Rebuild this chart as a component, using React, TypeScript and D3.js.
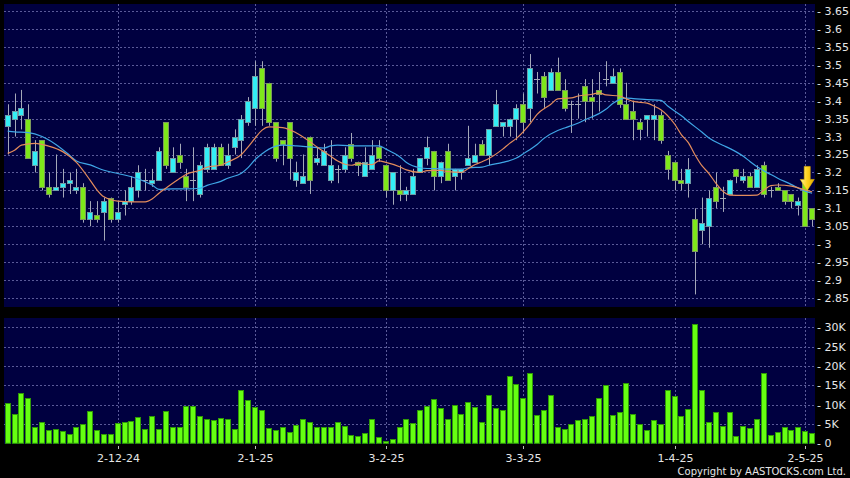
import { useEffect, useRef } from "react";
import * as d3 from "d3";

// daily bars, 8-11-24 .. 6-5-25 (118 sessions)
const OPEN = [
  3.33, 3.35, 3.36, 3.35, 3.22, 3.29, 3.16, 3.15, 3.16, 3.17,
  3.15, 3.16, 3.07, 3.08, 3.09, 3.13, 3.07, 3.112, 3.12, 3.15,
  3.18, 3.17, 3.18, 3.34, 3.20, 3.25, 3.19, 3.18, 3.14, 3.21,
  3.21, 3.27, 3.22, 3.27, 3.29, 3.34, 3.38, 3.49, 3.45, 3.34,
  3.29, 3.34, 3.18, 3.17, 3.30, 3.23, 3.22, 3.18, 3.21, 3.21,
  3.28, 3.23, 3.19, 3.21, 3.27, 3.22, 3.15, 3.15, 3.14, 3.14,
  3.20, 3.24, 3.26, 3.19, 3.26, 3.19, 3.20, 3.22, 3.23, 3.28,
  3.25, 3.33, 3.33, 3.33, 3.35, 3.39, 3.38, 3.46, 3.47, 3.43,
  3.48, 3.43, 3.39, 3.39, 3.44, 3.41, 3.43, 3.46, 3.45, 3.48,
  3.39, 3.37, 3.34, 3.35, 3.35, 3.36, 3.25, 3.23, 3.18, 3.17,
  3.07, 3.04, 3.05, 3.16, 3.13, 3.14, 3.21, 3.18, 3.19, 3.16,
  3.22, 3.15, 3.16, 3.15, 3.14, 3.11, 3.18, 3.10,
];
const HIGH = [
  3.39, 3.42, 3.43, 3.39, 3.29, 3.29, 3.20, 3.25, 3.21, 3.20,
  3.21, 3.17, 3.12, 3.12, 3.13, 3.13, 3.12, 3.15, 3.19, 3.22,
  3.21, 3.21, 3.27, 3.34, 3.27, 3.28, 3.21, 3.27, 3.23, 3.28,
  3.28, 3.28, 3.28, 3.32, 3.36, 3.41, 3.51, 3.51, 3.45, 3.34,
  3.29, 3.34, 3.23, 3.25, 3.30, 3.27, 3.28, 3.29, 3.22, 3.27,
  3.31, 3.23, 3.27, 3.29, 3.29, 3.22, 3.20, 3.22, 3.16, 3.21,
  3.24, 3.30, 3.26, 3.23, 3.28, 3.21, 3.21, 3.33, 3.28, 3.29,
  3.32, 3.43, 3.34, 3.35, 3.39, 3.42, 3.53, 3.48, 3.48, 3.49,
  3.52, 3.46, 3.40, 3.42, 3.46, 3.46, 3.48, 3.51, 3.49, 3.49,
  3.45, 3.40, 3.35, 3.36, 3.39, 3.37, 3.26, 3.23, 3.21, 3.24,
  3.10, 3.13, 3.15, 3.20, 3.16, 3.18, 3.21, 3.21, 3.20, 3.22,
  3.23, 3.16, 3.17, 3.15, 3.14, 3.13, 3.20, 3.10,
];
const LOW = [
  3.25, 3.30, 3.32, 3.24, 3.20, 3.15, 3.13, 3.15, 3.13, 3.14,
  3.14, 3.06, 3.05, 3.06, 3.01, 3.06, 3.06, 3.08, 3.11, 3.13,
  3.15, 3.16, 3.18, 3.21, 3.20, 3.21, 3.12, 3.12, 3.13, 3.20,
  3.21, 3.22, 3.21, 3.25, 3.24, 3.33, 3.33, 3.33, 3.33, 3.23,
  3.22, 3.18, 3.16, 3.17, 3.14, 3.22, 3.22, 3.17, 3.17, 3.20,
  3.23, 3.19, 3.19, 3.21, 3.23, 3.13, 3.11, 3.12, 3.12, 3.14,
  3.20, 3.22, 3.15, 3.17, 3.18, 3.15, 3.18, 3.22, 3.23, 3.25,
  3.22, 3.33, 3.30, 3.30, 3.29, 3.31, 3.34, 3.42, 3.38, 3.43,
  3.43, 3.37, 3.31, 3.35, 3.34, 3.35, 3.37, 3.44, 3.45, 3.38,
  3.35, 3.29, 3.29, 3.30, 3.29, 3.28, 3.18, 3.15, 3.15, 3.13,
  2.86, 3.00, 2.99, 3.10, 3.09, 3.14, 3.17, 3.17, 3.16, 3.16,
  3.13, 3.13, 3.15, 3.11, 3.10, 3.08, 3.05, 3.05,
];
const CLOSE = [
  3.36, 3.37, 3.38, 3.24, 3.26, 3.16, 3.14, 3.16, 3.17, 3.18,
  3.16, 3.07, 3.09, 3.07, 3.12, 3.07, 3.09, 3.12, 3.16, 3.20,
  3.18, 3.18, 3.26, 3.22, 3.24, 3.23, 3.16, 3.18, 3.22, 3.27,
  3.27, 3.22, 3.25, 3.30, 3.35, 3.40, 3.47, 3.38, 3.34, 3.24,
  3.28, 3.24, 3.20, 3.19, 3.18, 3.24, 3.26, 3.22, 3.21, 3.25,
  3.24, 3.22, 3.23, 3.25, 3.24, 3.15, 3.20, 3.14, 3.15, 3.19,
  3.24, 3.27, 3.19, 3.23, 3.18, 3.21, 3.21, 3.24, 3.25, 3.25,
  3.32, 3.39, 3.34, 3.35, 3.38, 3.34, 3.49, 3.46, 3.41, 3.48,
  3.43, 3.38, 3.39, 3.39, 3.40, 3.40, 3.42, 3.46, 3.47, 3.39,
  3.35, 3.35, 3.32, 3.36, 3.36, 3.29, 3.21, 3.18, 3.17, 3.21,
  2.98, 3.06, 3.13, 3.12, 3.13, 3.18, 3.19, 3.19, 3.16, 3.21,
  3.14, 3.15, 3.15, 3.12, 3.12, 3.12, 3.05, 3.07,
];
// volume in thousands of shares
const VOLUME = [
  10.5, 7.5, 12.9, 11.8, 4.2, 5.4, 3.5, 3.6, 3.2, 2.4,
  4.1, 5.0, 8.4, 3.4, 2.4, 2.4, 5.3, 5.6, 5.8, 6.7,
  3.8, 7.0, 3.8, 8.3, 4.2, 4.1, 9.6, 9.6, 7.0, 6.3,
  5.9, 6.5, 6.3, 3.6, 13.9, 11.3, 9.5, 8.6, 4.0, 3.5,
  4.1, 2.9, 4.7, 6.2, 5.5, 4.1, 4.2, 4.1, 5.4, 4.5,
  2.2, 1.9, 2.7, 6.2, 1.6, 0.5, 1.0, 4.3, 6.3, 5.3,
  8.7, 9.7, 11.4, 9.2, 6.3, 9.9, 7.5, 10.7, 9.5, 5.4,
  12.4, 9.2, 8.5, 17.5, 15.4, 11.7, 18.2, 7.3, 8.6, 12.4,
  4.3, 3.8, 4.9, 5.9, 6.3, 7.1, 11.6, 15.0, 7.2, 8.0,
  15.7, 7.5, 5.0, 3.5, 5.9, 5.1, 13.8, 12.3, 7.0, 9.0,
  30.9, 13.8, 5.6, 8.0, 4.5, 8.2, 2.0, 4.4, 4.0, 6.3,
  18.1, 2.2, 2.9, 4.1, 3.5, 4.1, 3.1, 2.6,
];

// moving averages: [bar index, value]
const MA10: [number, number][] = [
  [0, 3.253], [1, 3.262], [2, 3.276], [4, 3.281], [6, 3.273], [8, 3.258], [10, 3.228],
  [12, 3.178], [13, 3.151], [14, 3.132], [16, 3.12], [18, 3.118], [20, 3.118], [21, 3.126],
  [22, 3.142], [23, 3.156], [25, 3.183], [26, 3.195], [28, 3.206], [29, 3.215], [31, 3.22],
  [32, 3.229], [34, 3.25], [35, 3.272], [36, 3.296], [37, 3.318], [38, 3.327], [40, 3.325],
  [42, 3.31], [44, 3.285], [45, 3.271], [47, 3.245], [48, 3.232], [50, 3.22], [51, 3.225],
  [53, 3.222], [54, 3.232], [55, 3.228], [57, 3.216], [58, 3.207], [60, 3.2], [61, 3.205],
  [63, 3.206], [64, 3.202], [66, 3.2], [67, 3.211], [68, 3.222], [69, 3.23], [70, 3.239],
  [72, 3.265], [73, 3.281], [74, 3.295], [76, 3.336], [77, 3.362], [79, 3.39], [80, 3.405],
  [82, 3.408], [83, 3.413], [85, 3.418], [86, 3.422], [87, 3.416], [89, 3.413], [90, 3.405],
  [91, 3.398], [93, 3.393], [94, 3.385], [95, 3.375], [97, 3.335], [98, 3.305], [99, 3.283],
  [100, 3.248], [101, 3.218], [102, 3.197], [103, 3.17], [104, 3.148], [105, 3.137],
  [107, 3.136], [109, 3.137], [110, 3.151], [111, 3.163], [112, 3.165], [114, 3.162],
  [115, 3.157], [116, 3.151], [117, 3.146],
];
const MA20: [number, number][] = [
  [0, 3.315], [1, 3.313], [3, 3.311], [5, 3.3], [7, 3.278], [9, 3.248], [10, 3.232],
  [12, 3.221], [14, 3.206], [16, 3.197], [18, 3.188], [20, 3.174], [21, 3.165], [22, 3.153],
  [24, 3.154], [26, 3.154], [28, 3.156], [29, 3.164], [31, 3.175], [32, 3.184], [34, 3.198],
  [35, 3.214], [36, 3.236], [37, 3.252], [38, 3.265], [40, 3.276], [42, 3.274], [44, 3.271],
  [46, 3.268], [47, 3.274], [48, 3.276], [51, 3.274], [54, 3.274], [55, 3.265], [57, 3.244],
  [58, 3.228], [60, 3.213], [61, 3.211], [63, 3.21], [64, 3.209], [66, 3.209], [67, 3.213],
  [69, 3.215], [70, 3.22], [72, 3.228], [74, 3.24], [75, 3.252], [77, 3.278], [78, 3.295],
  [80, 3.317], [81, 3.324], [83, 3.338], [84, 3.347], [86, 3.364], [87, 3.376], [88, 3.392],
  [90, 3.407], [91, 3.406], [93, 3.403], [95, 3.401], [96, 3.385], [98, 3.358], [99, 3.342],
  [101, 3.312], [102, 3.296], [104, 3.276], [105, 3.267], [107, 3.245], [108, 3.23],
  [109, 3.216], [111, 3.194], [112, 3.184], [114, 3.166], [115, 3.156], [116, 3.148],
  [117, 3.142],
];

const PRICE_TICKS = [3.65, 3.6, 3.55, 3.5, 3.45, 3.4, 3.35, 3.3, 3.25, 3.2, 3.15, 3.1, 3.05, 3, 2.95, 2.9, 2.85];
const VOL_TICKS = [0, 5, 10, 15, 20, 25, 30];
const DATE_TICKS = [16, 36, 55, 75, 97, 116];
const DATE_LABELS = ["2-12-24", "2-1-25", "3-2-25", "3-3-25", "1-4-25", "2-5-25"];
const SIGNAL_BAR = 116;

const W = 850;
const H = 478;
const PLOT_L = 4;
const PLOT_R = 815;
const PRICE_PANEL = { top: 4, bottom: 307 };
const VOL_PANEL = { top: 318, bottom: 444 };

const BG = "#000040";
const GRID = "#5a5a98";
const TXT = "#e6e6e6";
const UP = "#33eef6";
const DOWN = "#7ee81a";
const WICK = "#a4a8b8";
const FONT = "DejaVu Sans, Verdana, sans-serif";

function drawChart(el: SVGSVGElement) {
  const svg = d3.select(el);
  svg.selectAll("*").remove();

  const n = CLOSE.length;
  const x = d3.scaleLinear().domain([0, n - 1]).range([7.7, 812.1]);
  const yP = d3.scaleLinear().domain([2.85, 3.65]).range([298, 11]);
  const yV = d3.scaleLinear().domain([0, 30]).range([443.3, 327.3]);

  svg.append("rect").attr("width", W).attr("height", H).attr("fill", "#000");

  // panels
  [PRICE_PANEL, VOL_PANEL].forEach((p) => {
    svg.append("rect")
      .attr("x", PLOT_L).attr("y", p.top)
      .attr("width", PLOT_R - PLOT_L).attr("height", p.bottom - p.top)
      .attr("fill", BG);
  });

  // horizontal grid
  PRICE_TICKS.forEach((v) => {
    svg.append("line")
      .attr("x1", PLOT_L).attr("x2", PLOT_R)
      .attr("y1", Math.round(yP(v)) + 0.5).attr("y2", Math.round(yP(v)) + 0.5)
      .attr("stroke", GRID).attr("stroke-dasharray", "2,2");
  });
  VOL_TICKS.filter((v) => v > 0).forEach((v) => {
    svg.append("line")
      .attr("x1", PLOT_L).attr("x2", PLOT_R)
      .attr("y1", Math.round(yV(v)) + 0.5).attr("y2", Math.round(yV(v)) + 0.5)
      .attr("stroke", GRID).attr("stroke-dasharray", "2,2");
  });

  // vertical grid
  DATE_TICKS.forEach((i) => {
    const gx = Math.round(x(i)) + 0.5;
    [PRICE_PANEL, VOL_PANEL].forEach((p) => {
      svg.append("line")
        .attr("x1", gx).attr("x2", gx)
        .attr("y1", p.top).attr("y2", p.bottom)
        .attr("stroke", GRID).attr("stroke-dasharray", "2,2");
    });
  });

  // candles
  const cg = svg.append("g");
  for (let i = 0; i < n; i++) {
    const cx = Math.round(x(i));
    const o = OPEN[i], c = CLOSE[i];
    cg.append("line")
      .attr("x1", cx + 0.5).attr("x2", cx + 0.5)
      .attr("y1", yP(HIGH[i])).attr("y2", yP(LOW[i]))
      .attr("stroke", WICK).attr("stroke-width", 1);
    if (o === c) {
      cg.append("line")
        .attr("x1", cx - 3).attr("x2", cx + 3)
        .attr("y1", Math.round(yP(o)) + 0.5).attr("y2", Math.round(yP(o)) + 0.5)
        .attr("stroke", WICK).attr("stroke-width", 1);
      continue;
    }
    const top = Math.round(yP(Math.max(o, c))) + 0.5;
    const bot = Math.round(yP(Math.min(o, c))) + 0.5;
    cg.append("rect")
      .attr("x", cx - 2.5).attr("y", top)
      .attr("width", 5).attr("height", Math.max(2, bot - top))
      .attr("fill", c > o ? UP : DOWN)
      .attr("stroke", c > o ? "#6f9aa6" : "#7c9a5c")
      .attr("stroke-width", 1);
  }

  // moving averages
  const line = d3.line<[number, number]>()
    .x((d) => x(d[0]))
    .y((d) => yP(d[1]))
    .curve(d3.curveMonotoneX);
  svg.append("path").attr("d", line(MA20)).attr("fill", "none")
    .attr("stroke", "#3fa6e6").attr("stroke-width", 1.2);
  svg.append("path").attr("d", line(MA10)).attr("fill", "none")
    .attr("stroke", "#e48c5c").attr("stroke-width", 1.2);

  // volume
  const vg = svg.append("g");
  VOLUME.forEach((v, i) => {
    const cx = Math.round(x(i));
    const top = Math.round(yV(v)) + 0.5;
    vg.append("rect")
      .attr("x", cx - 2.5).attr("y", top)
      .attr("width", 5).attr("height", Math.max(1, yV(0) - top))
      .attr("fill", "#66ff12").attr("stroke", "#2f9a06").attr("stroke-width", 1);
  });

  // signal arrow
  const defs = svg.append("defs");
  const grad = defs.append("linearGradient").attr("id", "arrowGrad")
    .attr("x1", 0).attr("x2", 1).attr("y1", 0).attr("y2", 0);
  grad.append("stop").attr("offset", "0%").attr("stop-color", "#fff39a");
  grad.append("stop").attr("offset", "50%").attr("stop-color", "#ffd21e");
  grad.append("stop").attr("offset", "100%").attr("stop-color", "#e0aa00");
  const ax = x(SIGNAL_BAR) + 2;
  const ay = yP(HIGH[SIGNAL_BAR]) + 18;
  svg.append("path")
    .attr("d", `M${ax - 3},${ay - 24} L${ax + 3},${ay - 24} L${ax + 3},${ay - 11} L${ax + 7},${ay - 11} L${ax},${ay} L${ax - 7},${ay - 11} L${ax - 3},${ay - 11} Z`)
    .attr("fill", "url(#arrowGrad)")
    .attr("stroke", "#e8b400").attr("stroke-width", 0.6);

  // right axis labels
  const fmt = (v: number) => String(+v.toFixed(2));
  PRICE_TICKS.forEach((v) => {
    svg.append("text")
      .attr("x", 817).attr("y", yP(v)).attr("dy", "0.36em")
      .attr("font-family", FONT).attr("font-size", 11).attr("fill", TXT)
      .text(`- ${fmt(v)}`);
  });
  VOL_TICKS.forEach((v) => {
    svg.append("text")
      .attr("x", 817).attr("y", yV(v)).attr("dy", "0.36em")
      .attr("font-family", FONT).attr("font-size", 11).attr("fill", TXT)
      .text(`- ${v === 0 ? "0" : v + "K"}`);
  });

  // date axis
  DATE_TICKS.forEach((i, k) => {
    const tx = Math.round(x(i)) + 0.5;
    svg.append("line")
      .attr("x1", tx).attr("x2", tx).attr("y1", 446).attr("y2", 449)
      .attr("stroke", "#bbbbbb");
    svg.append("text")
      .attr("x", tx).attr("y", 462)
      .attr("text-anchor", "middle")
      .attr("font-family", FONT).attr("font-size", 11).attr("fill", TXT)
      .text(DATE_LABELS[k]);
  });

  svg.append("text")
    .attr("x", 846).attr("y", 475)
    .attr("text-anchor", "end")
    .attr("font-family", FONT).attr("font-size", 10).attr("fill", TXT)
    .text("Copyright by AASTOCKS.com Ltd.");
}

export default function App() {
  const ref = useRef<SVGSVGElement>(null);

  useEffect(() => {
    if (ref.current) drawChart(ref.current);
  }, []);

  return (
    <svg
      ref={ref}
      width={W}
      height={H}
      style={{ position: "absolute", left: 0, top: 0, display: "block" }}
    />
  );
}
